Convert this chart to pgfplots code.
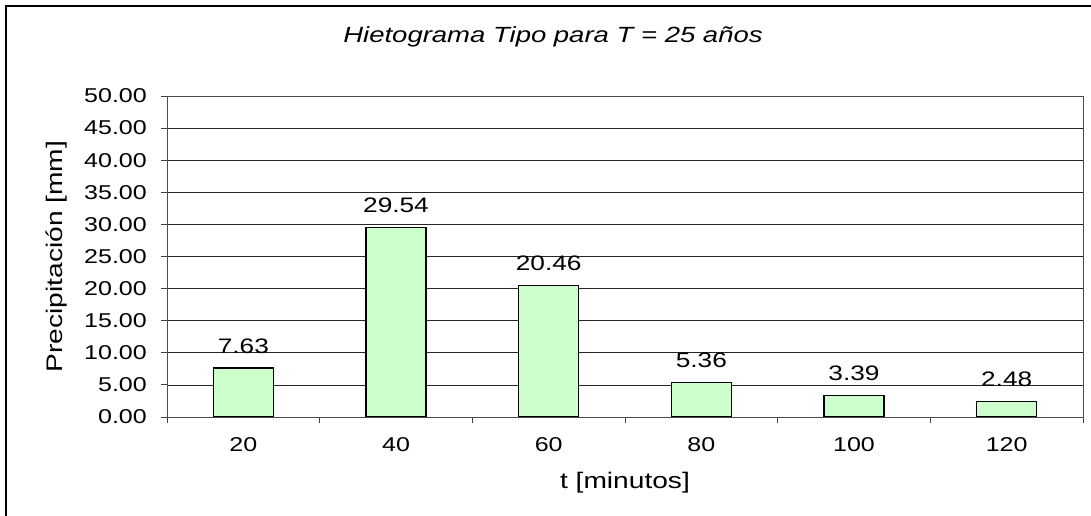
\documentclass[border=0pt]{standalone}
\usepackage{pgfplots}
\pgfplotsset{compat=1.18}
\usepackage{fontspec}
\setmainfont{Liberation Sans}[FakeStretch=1.25]
\definecolor{barg}{RGB}{204,255,204}
\begin{document}
\begin{tikzpicture}[x=1pt,y=1pt]
\useasboundingbox (0,0) rectangle (1091,516);
\draw[line width=2pt] (6,-5) -- (6,510) -- (1096,510);
\node[font=\fontsize{22}{26}\selectfont\itshape] at (553,479) {Hietograma Tipo para T = 25 años};
\begin{axis}[
  at={(167pt,99pt)}, anchor=south west, scale only axis,
  width=916pt, height=321pt,
  ymin=0, ymax=50, ytick={0,5,...,50},
  xmin=-0.5, xmax=5.5,
  xtick={0,...,5}, xticklabels={20,40,60,80,100,120},
  minor xtick={-0.5,0.5,...,5.5},
  major x tick style={draw=none},
  xtick pos=bottom, ytick pos=left,
  tick align=outside, major tick length=6pt, minor tick length=6pt,
  tick style={black!75, line width=0.8pt},
  axis line style={black!70, line width=0.8pt},
  ymajorgrids, grid style={black!85, line width=0.7pt},
  ybar, bar width=60pt,
  ticklabel style={font=\fontsize{20}{24}\selectfont},
  yticklabel style={inner sep=0pt, xshift=-14pt},
  xticklabel style={inner sep=0pt, yshift=-14pt},
  /pgf/number format/.cd, fixed, fixed zerofill, precision=2, assume math mode=true, /pgfplots/.cd,
  xlabel={t [minutos]},
  xlabel style={at={(axis description cs:0.5,-0.2056)}, anchor=center, font=\fontsize{22.5}{26}\selectfont},
  ylabel={Precipitación [mm]},
  ylabel style={at={(axis description cs:-0.1201,0.5)}, anchor=center, font=\fontsize{22.5}{26}\selectfont},
  nodes near coords,
  every node near coord/.append style={font=\fontsize{21}{25}\selectfont, inner sep=0pt, anchor=south, yshift=14pt, black},
]
\addplot[fill=barg, draw=black, line width=1.1pt] coordinates {(0,7.63) (1,29.54) (2,20.46) (3,5.36) (4,3.39) (5,2.48)};
\end{axis}
\end{tikzpicture}
\end{document}
